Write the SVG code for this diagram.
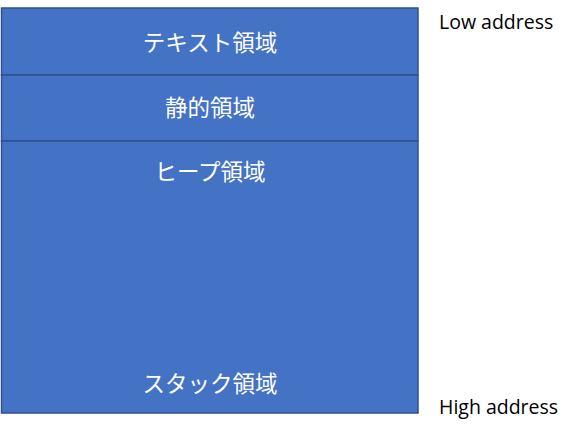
<svg xmlns="http://www.w3.org/2000/svg" width="575" height="429" viewBox="0 0 575 429">
<style>
.box{fill:#4472C4;stroke:#2F528F;stroke-width:1.5}
.lbl{font-family:"Noto Sans CJK JP",sans-serif;font-size:22.5px;fill:#ffffff;text-anchor:middle}
.addr{font-family:"Open Sans","Noto Sans",sans-serif;font-size:19.5px;fill:#000000}
</style>
<rect width="575" height="429" fill="#ffffff"/>
<g id="text-seg"><rect class="box" x="1.5" y="8" width="416.5" height="67"/><text class="lbl" x="210" y="50.5">テキスト領域</text></g>
<g id="static-seg"><rect class="box" x="1.5" y="75" width="416.5" height="66"/><text class="lbl" x="210" y="115.5">静的領域</text></g>
<g id="heap-stack-seg"><rect class="box" x="1.5" y="141" width="416.5" height="272"/><text class="lbl" x="210" y="179.5">ヒープ領域</text><text class="lbl" x="210" y="391.5">スタック領域</text></g>
<g id="connectors"></g>
<text class="addr" x="439" y="29">Low address</text>
<text class="addr" x="439" y="414">High address</text>
</svg>
